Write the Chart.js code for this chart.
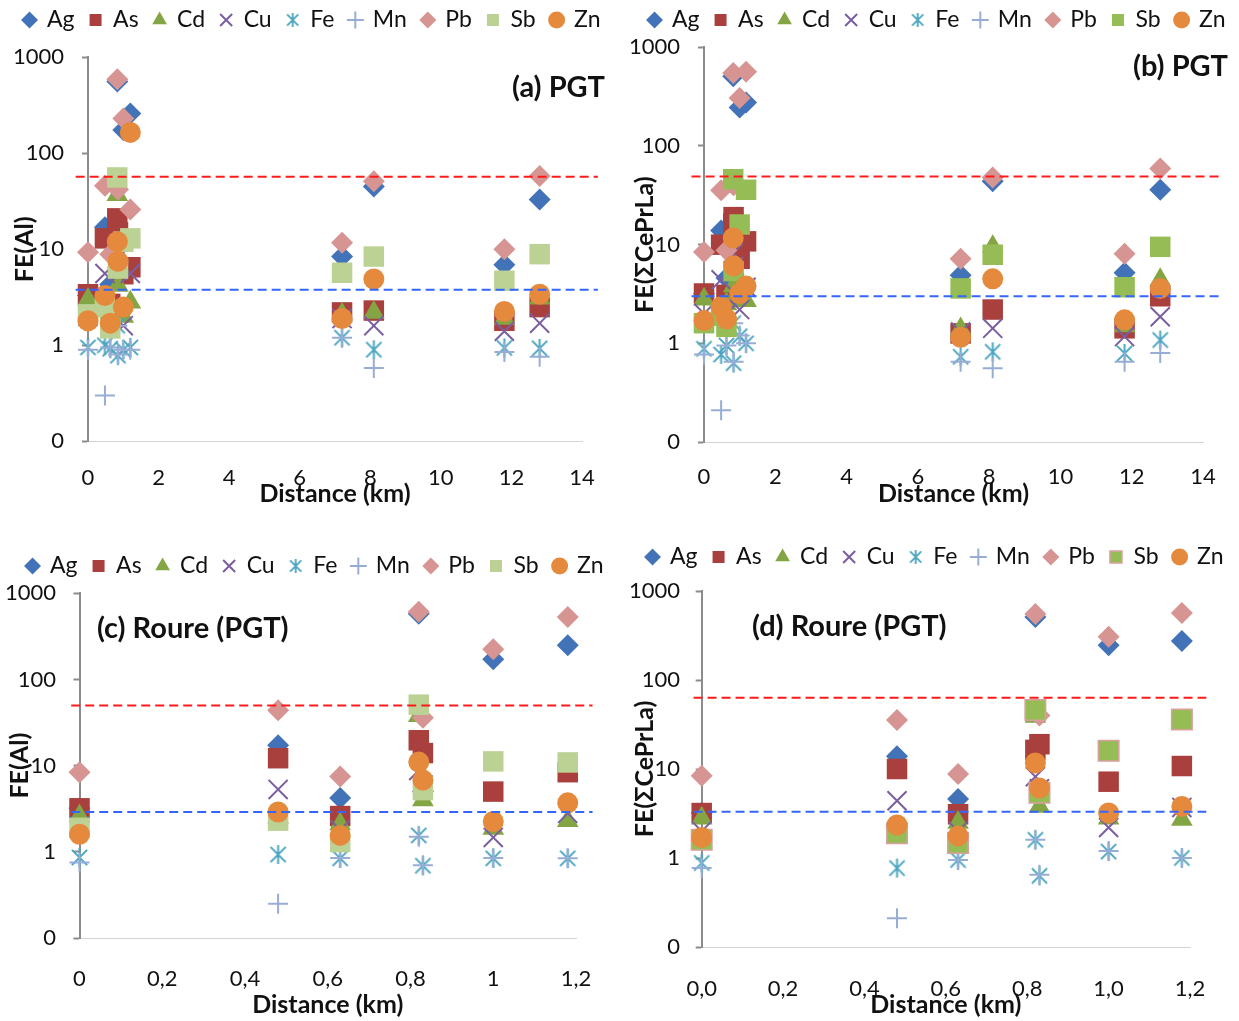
<!DOCTYPE html>
<html>
<head>
<meta charset="utf-8">
<script src="https://cdn.jsdelivr.net/npm/chart.js@4.4.1/dist/chart.umd.min.js"></script>
<style>
  html, body { margin: 0; padding: 0; background: #fff; overflow: hidden; }
  body { position: relative; width: 1239px; height: 1021px; font-family: Lato, sans-serif; }
  canvas { position: absolute; }
  .ptitle { position: absolute; font: bold 29px Lato, sans-serif; color: #111; white-space: nowrap; line-height: 1; }
</style>
</head>
<body>
<canvas id="chartA" width="624" height="510" style="left:0;top:0"></canvas>
<canvas id="chartB" width="634" height="510" style="left:620px;top:0"></canvas>
<canvas id="chartC" width="630" height="491" style="left:0;top:530px"></canvas>
<canvas id="chartD" width="630" height="491" style="left:620px;top:530px"></canvas>
<div class="ptitle" style="right:634px;top:71px">(a) PGT</div>
<div class="ptitle" style="right:11px;top:50px">(b) PGT</div>
<div class="ptitle" style="left:97px;top:612px">(c) Roure (PGT)</div>
<div class="ptitle" style="left:752px;top:610px">(d) Roure (PGT)</div>
<script>
// === data ===
const elements = ['Ag', 'As', 'Cd', 'Cu', 'Fe', 'Mn', 'Pb', 'Sb', 'Zn'];

// PGT: Roure samples near 0-1.2 km + four distant sites
const distPGT = [0, 0.48, 0.63, 0.83, 0.85, 1.0, 1.2, 7.2, 8.1, 11.8, 12.8];
const distPGTb = [0, 0.48, 0.63, 0.82, 0.83, 1.0, 1.18, 7.2, 8.1, 11.8, 12.8];
// rows follow `elements`
const feAlPGT = [
  [3.3, 17, 4.3, 560, 5, 175, 260, 8.4, 45, 6.9, 33],
  [3.4, 13, 2.7, 21, 15, 5.5, 6.5, 2.2, 2.3, 1.8, 2.5],
  [3.0, 2.6, 2.2, 37, 4.2, 2.0, 2.8, 2.1, 2.2, 1.9, 3.1],
  [2.0, 5.6, 1.9, 8, 6, 1.6, 5.6, 1.9, 1.6, 1.4, 1.7],
  [0.95, 1.0, 0.92, 1.6, 0.78, 0.9, 0.95, 1.2, 0.9, 0.94, 0.93],
  [0.9, 0.3, 0.95, 1.6, 0.8, 0.9, 0.9, 1.2, 0.58, 0.85, 0.76],
  [9.3, 46, 8.9, 590, 42, 230, 26, 11.7, 51, 10, 58],
  [2.1, 2.5, 1.5, 56, 6.3, 12, 13, 5.7, 8.4, 4.7, 8.9],
  [1.8, 3.3, 1.7, 12, 7.5, 2.5, 165, 1.9, 4.9, 2.25, 3.4],
];
const feReePGT = [
  [3.2, 13.9, 4.6, 510, 5, 246, 275, 4.9, 44, 5.2, 36],
  [3.2, 10, 3.1, 16.4, 19, 7.2, 10.8, 1.26, 2.2, 1.42, 3.0],
  [2.8, 2.2, 2.5, 39, 3.8, 2.8, 2.7, 1.4, 9.5, 1.5, 4.4],
  [2.0, 4.4, 2.0, 8.2, 6, 2.2, 3.7, 1.3, 1.42, 1.17, 1.86],
  [0.88, 0.77, 0.95, 1.6, 0.63, 1.18, 1.0, 0.73, 0.82, 0.79, 1.08],
  [0.77, 0.21, 0.95, 1.6, 0.65, 1.2, 1.0, 0.65, 0.56, 0.65, 0.8],
  [8.4, 35.5, 8.8, 550, 40, 307, 565, 7.2, 48, 8.1, 59],
  [1.6, 1.9, 1.47, 46, 5.4, 16, 36, 3.6, 7.9, 3.7, 9.5],
  [1.7, 2.35, 1.77, 11.7, 6.1, 3.2, 3.8, 1.15, 4.5, 1.73, 3.6],
];

// Roure (PGT) only
const distRoure = [0, 0.48, 0.63, 0.82, 0.83, 1.0, 1.18];
const feAlRoure = [
  [3.2, 17.2, 4.2, 580, 5, 172, 250],
  [3.2, 12.2, 2.6, 19.7, 14, 5.0, 8.4],
  [2.6, 2.5, 2.1, 38, 4.0, 1.87, 2.3],
  [2.0, 5.3, 1.8, 8.8, 6, 1.47, 2.8],
  [0.86, 0.93, 0.84, 1.55, 0.69, 0.84, 0.84],
  [0.75, 0.25, 0.85, 1.5, 0.7, 0.85, 0.84],
  [8.4, 44, 7.5, 610, 36, 225, 530],
  [1.9, 2.3, 1.3, 51, 5.2, 11.2, 10.9],
  [1.6, 2.9, 1.55, 11, 6.8, 2.25, 3.7],
];
const feReeRoure = [
  [3.2, 13.9, 4.6, 510, 5, 246, 275],
  [3.2, 10, 3.1, 16.4, 19, 7.2, 10.8],
  [2.8, 2.2, 2.5, 39, 3.8, 2.8, 2.7],
  [2.0, 4.4, 2.0, 8.2, 6, 2.2, 3.7],
  [0.88, 0.77, 0.95, 1.6, 0.63, 1.18, 1.0],
  [0.77, 0.21, 0.95, 1.6, 0.65, 1.2, 1.0],
  [8.4, 35.5, 8.8, 550, 40, 307, 565],
  [1.6, 1.9, 1.47, 46, 5.4, 16, 36],
  [1.7, 2.35, 1.77, 11.7, 6.1, 3.2, 3.8],
];

// dashed reference levels for panels a, b, c, d
const upperRef = [57, 49, 50, 63];
const lowerRef = [3.8, 3.0, 2.9, 3.3];
const refExtentPGT = [-0.35, 14.45];
const refExtentRoure = [-0.02, 1.24];

const yTickValues = [0.1, 1, 10, 100, 1000];
const yTickLabels = ['0', '1', '10', '100', '1000'];
const xTicksPGT = [0, 2, 4, 6, 8, 10, 12, 14];
const xLabelsPGT = ['0', '2', '4', '6', '8', '10', '12', '14'];
const xTicksRoure = [0, 0.2, 0.4, 0.6, 0.8, 1.0, 1.2];
const xLabelsRoureC = ['0', '0,2', '0,4', '0,6', '0,8', '1', '1,2'];
const xLabelsRoureD = ['0,0', '0,2', '0,4', '0,6', '0,8', '1,0', '1,2'];

// === marker styles ===
function makeStar(color, size, lw) {
  const c = document.createElement('canvas');
  c.width = size; c.height = size;
  const g = c.getContext('2d');
  const m = size / 2, a = size / 2 - 1, d = a * 0.8;
  g.strokeStyle = color;
  g.lineWidth = lw;
  g.beginPath();
  g.moveTo(m, m - a); g.lineTo(m, m + a);
  g.moveTo(m - d, m - d); g.lineTo(m + d, m + d);
  g.moveTo(m + d, m - d); g.lineTo(m - d, m + d);
  g.stroke();
  return c;
}
const feColor = '#4BA5C0';
const starFe = makeStar(feColor, 21, 2);
const starFeLegend = makeStar(feColor, 16, 1.8);

const markers = {
  Ag: { style: 'rectRot', color: '#4272B8', radius: 11 },
  As: { style: 'rect', color: '#A9403D', radius: 14.5 },
  Cd: { style: 'triangle', color: '#84A543', radius: 12.5 },
  Cu: { style: 'crossRot', color: '#7B5E9F', radius: 13.5, line: true },
  Fe: { style: starFe, color: feColor, radius: 10, line: true },
  Mn: { style: 'cross', color: '#98ADD6', radius: 10, line: true },
  Pb: { style: 'rectRot', color: '#D69492', radius: 11 },
  Sb: { style: 'rect', color: '#BCD295', radius: 14.5 },
  Zn: { style: 'circle', color: '#E5893C', radius: 10.5 },
};

const FONT = 'Lato';

function buildDatasets(p) {
  const sets = elements.map((el, i) => {
    const m = markers[el];
    let fill = m.color, border = m.color, bw = m.line ? 2 : 0;
    if (el === 'Sb' && p.sbColor) fill = border = p.sbColor;
    if (el === 'Sb' && p.sbBorder) { border = p.sbBorder; bw = 1.5; }
    return {
      label: el,
      data: p.dist.map((d, j) => ({ x: d, y: p.rows[i][j] })),
      pointStyle: m.style,
      pointRadius: m.radius,
      pointHoverRadius: m.radius,
      backgroundColor: fill,
      borderColor: border,
      pointBorderWidth: bw,
      borderWidth: bw,
      order: elements.length - i,
      clip: false,
    };
  });
  const refLine = (v, color) => ({
    type: 'line',
    label: '',
    data: [{ x: p.refX[0], y: v }, { x: p.refX[1], y: v }],
    borderColor: color,
    borderWidth: 2,
    borderDash: [9, 5],
    pointRadius: 0,
    fill: false,
    order: 0,
    clip: false,
  });
  sets.push(refLine(upperRef[p.ref], '#FF1A1A'));
  sets.push(refLine(lowerRef[p.ref], '#3366FF'));
  return sets;
}

function makeChart(p) {
  const legendFit = {
    id: 'legendFit',
    afterInit(chart) {
      const fit = chart.legend.fit;
      chart.legend.fit = function () { fit.call(this); this.height = p.legendH; };
    },
  };
  const defaultLabels = Chart.defaults.plugins.legend.labels.generateLabels;
  return new Chart(document.getElementById(p.id), {
    type: 'scatter',
    data: { datasets: buildDatasets(p) },
    plugins: [legendFit],
    options: {
      responsive: false,
      animation: false,
      events: [],
      layout: { padding: { top: p.padTop, left: 0, right: 0, bottom: 0 } },
      plugins: {
        tooltip: { enabled: false },
        legend: {
          position: 'top',
          labels: {
            usePointStyle: true,
            boxHeight: 12,
            boxWidth: 12,
            padding: 15,
            color: '#111',
            font: { family: FONT, size: 23 },
            filter: item => item.datasetIndex < elements.length,
            sort: (a, b) => a.datasetIndex - b.datasetIndex,
            generateLabels: chart => defaultLabels(chart).map(item => {
              if (item.pointStyle === starFe) item.pointStyle = starFeLegend;
              return item;
            }),
          },
        },
      },
      scales: {
        x: {
          type: 'linear',
          min: 0,
          max: p.xMax,
          afterBuildTicks: s => { s.ticks = p.xTicks.map(v => ({ value: v })); },
          afterFit: s => { s.height = p.xH; },
          grid: { display: false },
          border: { color: '#d4d4d4', width: 1 },
          ticks: {
            autoSkip: false,
            maxRotation: 0,
            padding: p.xTickPad,
            color: '#111',
            font: { family: FONT, size: 22 },
            callback: (v, i) => p.xLabels[i],
          },
          title: {
            display: true,
            text: 'Distance (km)',
            color: '#111',
            font: { family: FONT, size: 25, weight: 'bold' },
            padding: { top: 0, bottom: 1 },
          },
        },
        y: {
          type: 'logarithmic',
          position: 'left',
          min: 0.1,
          max: 1000,
          afterBuildTicks: s => { s.ticks = yTickValues.map(v => ({ value: v })); },
          afterFit: s => { s.width = p.yW; },
          grid: { drawOnChartArea: false, drawTicks: true, tickLength: 6, color: '#8c8c8c', tickWidth: 2 },
          border: { color: '#8c8c8c', width: 2 },
          ticks: {
            padding: p.yTickPad,
            color: '#111',
            font: { family: FONT, size: 22 },
            callback: (v, i) => yTickLabels[i],
          },
          title: {
            display: true,
            text: p.yTitle,
            color: '#111',
            font: { family: FONT, size: 25, weight: 'bold' },
            padding: { top: p.yTitlePad, bottom: 0 },
          },
        },
        yR: {
          type: 'linear',
          position: 'right',
          display: true,
          grid: { display: false },
          border: { display: false },
          ticks: { display: false },
          afterFit: s => { s.width = p.rW; },
        },
      },
    },
  });
}

makeChart({
  id: 'chartA', dist: distPGT, rows: feAlPGT, xTicks: xTicksPGT, xLabels: xLabelsPGT, xMax: 14,
  refX: refExtentPGT, ref: 0, yTitle: 'FE(Al)',
  padTop: -6.5, legendH: 63.8, yW: 88, rW: 42, xH: 68.7, xTickPad: 15, yTickPad: 18, yTitlePad: 10,
});
makeChart({
  id: 'chartB', dist: distPGTb, rows: feReePGT, xTicks: xTicksPGT, xLabels: xLabelsPGT, xMax: 14,
  refX: refExtentPGT, ref: 1, yTitle: 'FE(ΣCePrLa)', sbColor: '#96BD55',
  padTop: -6.5, legendH: 53.8, yW: 84, rW: 51, xH: 68, xTickPad: 13.5, yTickPad: 18, yTitlePad: 10,
});
makeChart({
  id: 'chartC', dist: distRoure, rows: feAlRoure, xTicks: xTicksRoure, xLabels: xLabelsRoureC, xMax: 1.2,
  refX: refExtentRoure, ref: 2, yTitle: 'FE(Al)',
  padTop: 9.5, legendH: 53.8, yW: 79.5, rW: 54, xH: 83, xTickPad: 19.5, yTickPad: 17.5, yTitlePad: 5,
});
makeChart({
  id: 'chartD', dist: distRoure, rows: feReeRoure, xTicks: xTicksRoure, xLabels: xLabelsRoureD, xMax: 1.2,
  refX: refExtentRoure, ref: 3, yTitle: 'FE(ΣCePrLa)', sbColor: '#96BD55', sbBorder: '#D9A0A0',
  padTop: 0.5, legendH: 60.5, yW: 81.7, rW: 60, xH: 74, xTickPad: 20.5, yTickPad: 15.7, yTitlePad: 10,
});
</script>
</body>
</html>
